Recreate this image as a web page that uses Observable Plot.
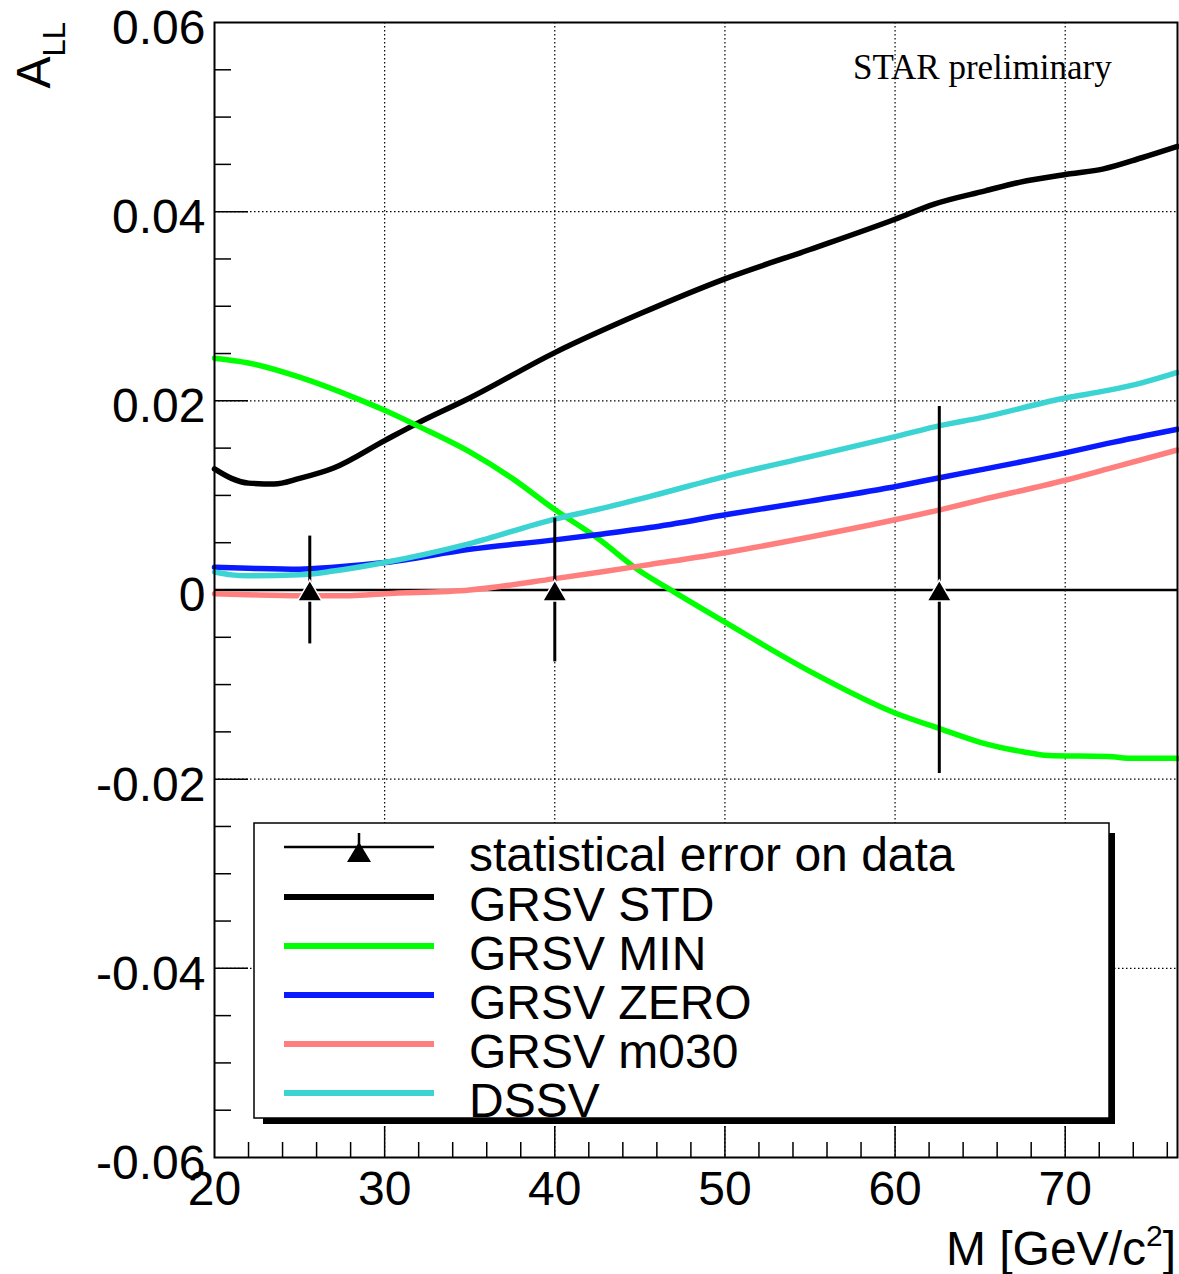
<!DOCTYPE html>
<html><head><meta charset="utf-8">
<script src="https://cdn.jsdelivr.net/npm/d3@7"></script>
<script src="https://cdn.jsdelivr.net/npm/@observablehq/plot@0.6"></script>
<style>
body{margin:0;background:#fff;}
#wrap{position:relative;width:1179px;height:1274px;font-family:"Liberation Sans",Arial,Helvetica,sans-serif;}
#overlay{position:absolute;left:0;top:0;pointer-events:none;}
</style></head><body><div id="wrap"></div>
<script>
// ---- axes ----
const xDomain = [20, 76.6];
const yDomain = [-0.06, 0.06];
const xTicks = [20, 30, 40, 50, 60, 70];
const xTickLabels = ["20", "30", "40", "50", "60", "70"];
const xGrid = [30, 40, 50, 60, 70];
const xMinorTicks = [22, 24, 26, 28, 32, 34, 36, 38, 42, 44, 46, 48, 52, 54, 56, 58, 62, 64, 66, 68, 72, 74, 76];
const yTicks = [-0.06, -0.04, -0.02, 0, 0.02, 0.04, 0.06];
const yTickLabels = ["-0.06", "-0.04", "-0.02", "0", "0.02", "0.04", "0.06"];
const yGrid = [-0.04, -0.02, 0.02, 0.04];
const yMinorTicks = [-0.055, -0.05, -0.045, -0.035, -0.03, -0.025, -0.015, -0.01, -0.005,
  0.005, 0.01, 0.015, 0.025, 0.03, 0.035, 0.045, 0.05, 0.055];
const xLabel = "M [GeV/c";
const yLabel = "A";
const annotation = "STAR preliminary";

// ---- data points (statistical errors) ----
const dataX = [25.6, 40.0, 62.6];
const dataY = [0, 0, 0];
const dataErr = [0.0057, 0.0076, 0.0194];

// ---- theory curves ----
const stdX = [20, 21, 22, 23.5, 25, 27, 30, 32, 35, 40, 45, 50, 55, 60, 62.3, 65.3, 67.3, 70.3, 72.2, 74.5, 76.6];
const stdY = [0.0128, 0.0118, 0.0113, 0.0112, 0.0118, 0.0129, 0.0158, 0.0177, 0.0203, 0.0251, 0.0292, 0.0329, 0.0360, 0.0392, 0.0408, 0.0422, 0.0431, 0.0440, 0.0445, 0.0457, 0.0469];

const minX = [20, 22, 25, 28, 30, 32, 35, 37.5, 40, 42.5, 45, 47, 50, 55, 60, 62.7, 65, 67.5, 69, 72.5, 74, 76.6];
const minY = [0.0245, 0.0240, 0.0225, 0.0205, 0.0190, 0.0173, 0.0146, 0.0118, 0.0085, 0.0055, 0.0020, -0.0002, -0.0034, -0.0086, -0.0130, -0.0147, -0.0161, -0.0171, -0.0175, -0.0176, -0.0178, -0.0178];

const zeroX = [20, 22, 25, 27, 30, 35, 40, 42.7, 45.6, 50.2, 55, 60.2, 62.7, 65, 70, 72.5, 76.6];
const zeroY = [0.0024, 0.0023, 0.0022, 0.0024, 0.0029, 0.0043, 0.0053, 0.0059, 0.0066, 0.0080, 0.0094, 0.0110, 0.0119, 0.0127, 0.0145, 0.0155, 0.0170];

const m030X = [20, 22, 25, 28, 30, 35, 40, 42.7, 45.6, 50.2, 55, 60.2, 62.7, 65, 70, 72.5, 76.6];
const m030Y = [-0.0004, -0.0005, -0.0006, -0.0006, -0.0004, 0.0000, 0.0012, 0.0019, 0.0027, 0.0040, 0.0056, 0.0075, 0.0085, 0.0095, 0.0116, 0.0128, 0.0148];

const dssvX = [20, 21, 22, 25, 27, 30, 35, 40, 42.7, 45.6, 50.2, 55, 60.2, 62.7, 65, 70, 72.5, 74.5, 76.6];
const dssvY = [0.0019, 0.0016, 0.0015, 0.0016, 0.0020, 0.0029, 0.0049, 0.0075, 0.0086, 0.0099, 0.0121, 0.0141, 0.0163, 0.0174, 0.0182, 0.0203, 0.0211, 0.0219, 0.0230];

const seriesNames = ["statistical error on data", "GRSV STD", "GRSV MIN", "GRSV ZERO", "GRSV m030", "DSSV"];
const seriesColors = ["#000000", "#000000", "#00ff00", "#0a1aff", "#ff7f7f", "#3cd3d3"];

const curves = [
  {name: seriesNames[1], color: seriesColors[1], xs: stdX, ys: stdY},
  {name: seriesNames[2], color: seriesColors[2], xs: minX, ys: minY},
  {name: seriesNames[3], color: seriesColors[3], xs: zeroX, ys: zeroY},
  {name: seriesNames[4], color: seriesColors[4], xs: m030X, ys: m030Y},
  {name: seriesNames[5], color: seriesColors[5], xs: dssvX, ys: dssvY}
];
const points = dataX.map((x, i) => ({x, y: dataY[i], err: dataErr[i]}));

const W = 1179, H = 1274, mL = 214, mR = 2, mT = 22, mB = 117;
const plotW = W - mL - mR, plotH = H - mT - mB;
const FONT = '"Liberation Sans", Arial, Helvetica, sans-serif';

const curveMarks = curves.map(c =>
  Plot.line(c.xs.map((x, i) => ({x, y: c.ys[i]})), {x: "x", y: "y", stroke: c.color, strokeWidth: 5.5, curve: "monotone-x"})
);

const chart = Plot.plot({
  width: W, height: H,
  marginLeft: mL, marginRight: mR, marginTop: mT, marginBottom: mB,
  x: {domain: xDomain, label: null},
  y: {domain: yDomain, label: null},
  style: {fontFamily: FONT, color: "black", background: "white", overflow: "visible"},
  marks: [
    Plot.ruleX(xGrid, {x: d => d, stroke: "#000", strokeWidth: 1.2, strokeDasharray: "1.5,2.5"}),
    Plot.ruleY(yGrid, {y: d => d, stroke: "#000", strokeWidth: 1.2, strokeDasharray: "1.5,2.5"}),
    Plot.tickX(xMinorTicks, {x: d => d, insetTop: plotH - 15, stroke: "#000", strokeWidth: 1.5}),
    Plot.tickX(xGrid, {x: d => d, insetTop: plotH - 31, stroke: "#000", strokeWidth: 1.5}),
    Plot.tickY(yMinorTicks, {y: d => d, insetRight: plotW - 17, stroke: "#000", strokeWidth: 1.5}),
    Plot.tickY(yGrid.concat([0]), {y: d => d, insetRight: plotW - 34, stroke: "#000", strokeWidth: 1.5}),
    Plot.ruleY([0], {stroke: "#000", strokeWidth: 2.5}),
    ...curveMarks,
    Plot.ruleX(points, {x: "x", y1: d => d.y - d.err, y2: d => d.y + d.err, stroke: "#000", strokeWidth: 3}),
    Plot.dot(points, {x: "x", y: "y", symbol: "triangle", r: 9, fill: "#000", stroke: "white", strokeWidth: 1.5, dy: 4}),
    Plot.frame({stroke: "#000", strokeWidth: 2}),
    Plot.axisX({ticks: xTicks, tickFormat: d => xTickLabels[xTicks.indexOf(d)], tickSize: 0, tickPadding: 13, fontSize: 48, label: null}),
    Plot.axisY({ticks: yTicks, tickFormat: d => yTickLabels[yTicks.indexOf(d)], tickSize: 0, tickPadding: 9, fontSize: 48, dy: 6, label: null})
  ]
});
const wrap = document.getElementById("wrap");
wrap.appendChild(chart);

// ---- overlay: axis titles, annotation, legend ----
const ns = "http://www.w3.org/2000/svg";
const ov = d3.select(wrap).append("svg").attr("id", "overlay").attr("width", W).attr("height", H)
  .attr("xmlns", ns).style("font-family", FONT);

// y-axis title A_LL
const yt = ov.append("text").attr("transform", "translate(50,22) rotate(-90)")
  .attr("text-anchor", "end").attr("font-size", 48).attr("fill", "#000");
yt.append("tspan").text(yLabel);
yt.append("tspan").attr("font-size", 31).attr("dy", 15).text("LL");

// x-axis title
const xt = ov.append("text").attr("x", 1176).attr("y", 1265).attr("text-anchor", "end")
  .attr("font-size", 48).attr("fill", "#000");
xt.append("tspan").text(xLabel);
xt.append("tspan").attr("font-size", 30).attr("dy", -19).text("2");
xt.append("tspan").attr("dy", 19).text("]");

// annotation
ov.append("text").attr("x", 853).attr("y", 79).attr("font-family", '"Liberation Serif", "Times New Roman", serif')
  .attr("font-size", 35).attr("fill", "#000").text(annotation);

// legend
ov.append("rect").attr("x", 263).attr("y", 833).attr("width", 852).attr("height", 291).attr("fill", "#000");
ov.append("rect").attr("x", 254).attr("y", 823).attr("width", 855).attr("height", 295)
  .attr("fill", "#fff").attr("stroke", "#000").attr("stroke-width", 1.5);
const rowY = [847, 897, 946, 995, 1044, 1093];
seriesNames.forEach((name, i) => {
  const y = rowY[i];
  if (i === 0) {
    ov.append("line").attr("x1", 284).attr("x2", 434).attr("y1", y).attr("y2", y)
      .attr("stroke", "#000").attr("stroke-width", 2.5);
    ov.append("line").attr("x1", 359).attr("x2", 359).attr("y1", y - 14).attr("y2", y + 14)
      .attr("stroke", "#000").attr("stroke-width", 2.5);
    ov.append("path").attr("d", `M${359 - 12},${y + 15}L${359 + 12},${y + 15}L359,${y - 5}Z`).attr("fill", "#000");
  } else {
    ov.append("line").attr("x1", 284).attr("x2", 434).attr("y1", y).attr("y2", y)
      .attr("stroke", seriesColors[i]).attr("stroke-width", 6);
  }
  ov.append("text").attr("x", 469).attr("y", y + 24).attr("font-size", 48).attr("fill", "#000").text(name);
});
</script>
</body></html>
